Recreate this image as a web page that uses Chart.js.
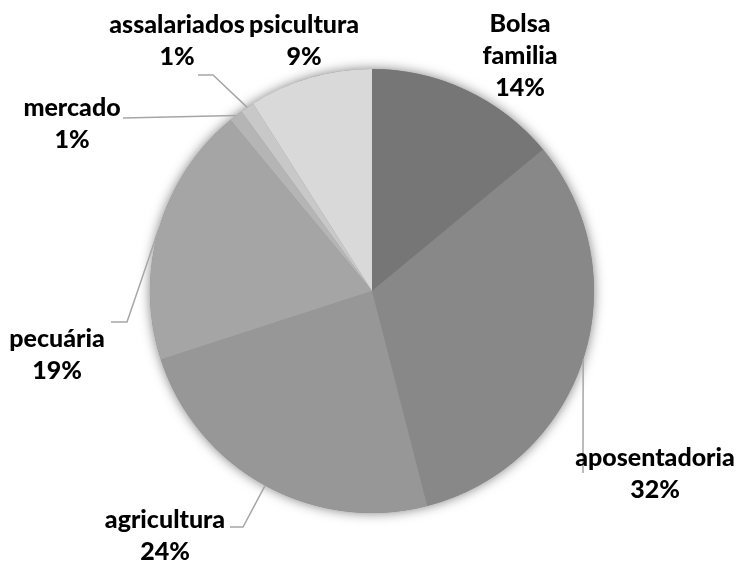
<!DOCTYPE html>
<html>
<head>
<meta charset="utf-8">
<script src="https://cdn.jsdelivr.net/npm/chart.js@4.4.0/dist/chart.umd.min.js"></script>
<style>
  html, body { margin: 0; padding: 0; background: #fff; }
  #wrap { width: 739px; height: 561px; }
</style>
</head>
<body>
<div id="wrap"><canvas id="pieChart" width="739" height="561"></canvas></div>
<script>
// ==========================
// DATA
// ==========================
const categories = ["Bolsa familia", "aposentadoria", "agricultura", "pecuária", "mercado", "assalariados", "psicultura"];
const values = [14, 32, 24, 19, 1, 1, 9];
const labelLines = [
  ["Bolsa", "familia", "14%"],
  ["aposentadoria", "32%"],
  ["agricultura", "24%"],
  ["pecuária", "19%"],
  ["mercado", "1%"],
  ["assalariados", "1%"],
  ["psicultura", "9%"]
];

// ==========================
// STYLE
// ==========================
const sliceColors = ["#767676", "#888888", "#979797", "#a5a5a5", "#b5b5b5", "#c8c8c8", "#d9d9d9"];
const labelFont = "900 25px Lato";
const lineGap = 32;

// label placement relative to pie centre: text x, first baseline, leader points after the arc anchor
const labelLayout = [
  { x: 148, y: -259, leader: [] },
  { x: 283, y: 175, leader: [[211, 182]] },
  { x: -207, y: 237, leader: [[-129, 236], [-142, 236]] },
  { x: -315, y: 56, leader: [[-245, 31], [-261, 31]] },
  { x: -300, y: -175, leader: [[-249, -173]] },
  { x: -195, y: -258, leader: [[-159, -216], [-174, -216]] },
  { x: -68, y: -258, leader: [] }
];

// ==========================
// PLUGINS
// ==========================
const pieShadow = {
  id: "pieShadow",
  beforeDatasetsDraw(chart) {
    const arc = chart.getDatasetMeta(0).data[0];
    if (!arc) return;
    const ctx = chart.ctx;
    ctx.save();
    ctx.shadowColor = "rgba(0,0,0,0.5)";
    ctx.shadowBlur = 12;
    ctx.fillStyle = "#888";
    ctx.beginPath();
    ctx.arc(arc.x, arc.y, arc.outerRadius, 0, Math.PI * 2);
    ctx.fill();
    ctx.restore();
  }
};

const outsideLabels = {
  id: "outsideLabels",
  afterDatasetsDraw(chart) {
    const ctx = chart.ctx;
    const meta = chart.getDatasetMeta(0);
    meta.data.forEach((arc, i) => {
      const cx = arc.x, cy = arc.y;
      const mid = (arc.startAngle + arc.endAngle) / 2;
      const ax = cx + Math.cos(mid) * arc.outerRadius;
      const ay = cy + Math.sin(mid) * arc.outerRadius;
      const lay = labelLayout[i];

      // leader line
      if (lay.leader.length) {
        ctx.save();
        ctx.strokeStyle = "#a6a6a6";
        ctx.lineWidth = 1.5;
        ctx.beginPath();
        ctx.moveTo(ax, ay);
        lay.leader.forEach(p => ctx.lineTo(cx + p[0], cy + p[1]));
        ctx.stroke();
        ctx.restore();
      }

      // text
      ctx.save();
      ctx.font = labelFont;
      ctx.fillStyle = "#000";
      ctx.textAlign = "center";
      ctx.textBaseline = "alphabetic";
      labelLines[i].forEach((line, k) => {
        ctx.fillText(line, cx + lay.x, cy + lay.y + k * lineGap);
      });
      ctx.restore();
    });
  }
};

// ==========================
// CHART
// ==========================
const ctx = document.getElementById("pieChart").getContext("2d");

const chart = new Chart(ctx, {
  type: "pie",
  data: {
    labels: categories,
    datasets: [{
      data: values,
      backgroundColor: sliceColors,
      borderWidth: 0
    }]
  },
  options: {
    responsive: false,
    animation: false,
    layout: {
      padding: { left: 150, right: 145, top: 69, bottom: 48 }
    },
    plugins: {
      legend: { display: false },
      tooltip: { enabled: false },
      title: { display: false }
    }
  },
  plugins: [pieShadow, outsideLabels]
});
</script>
</body>
</html>
